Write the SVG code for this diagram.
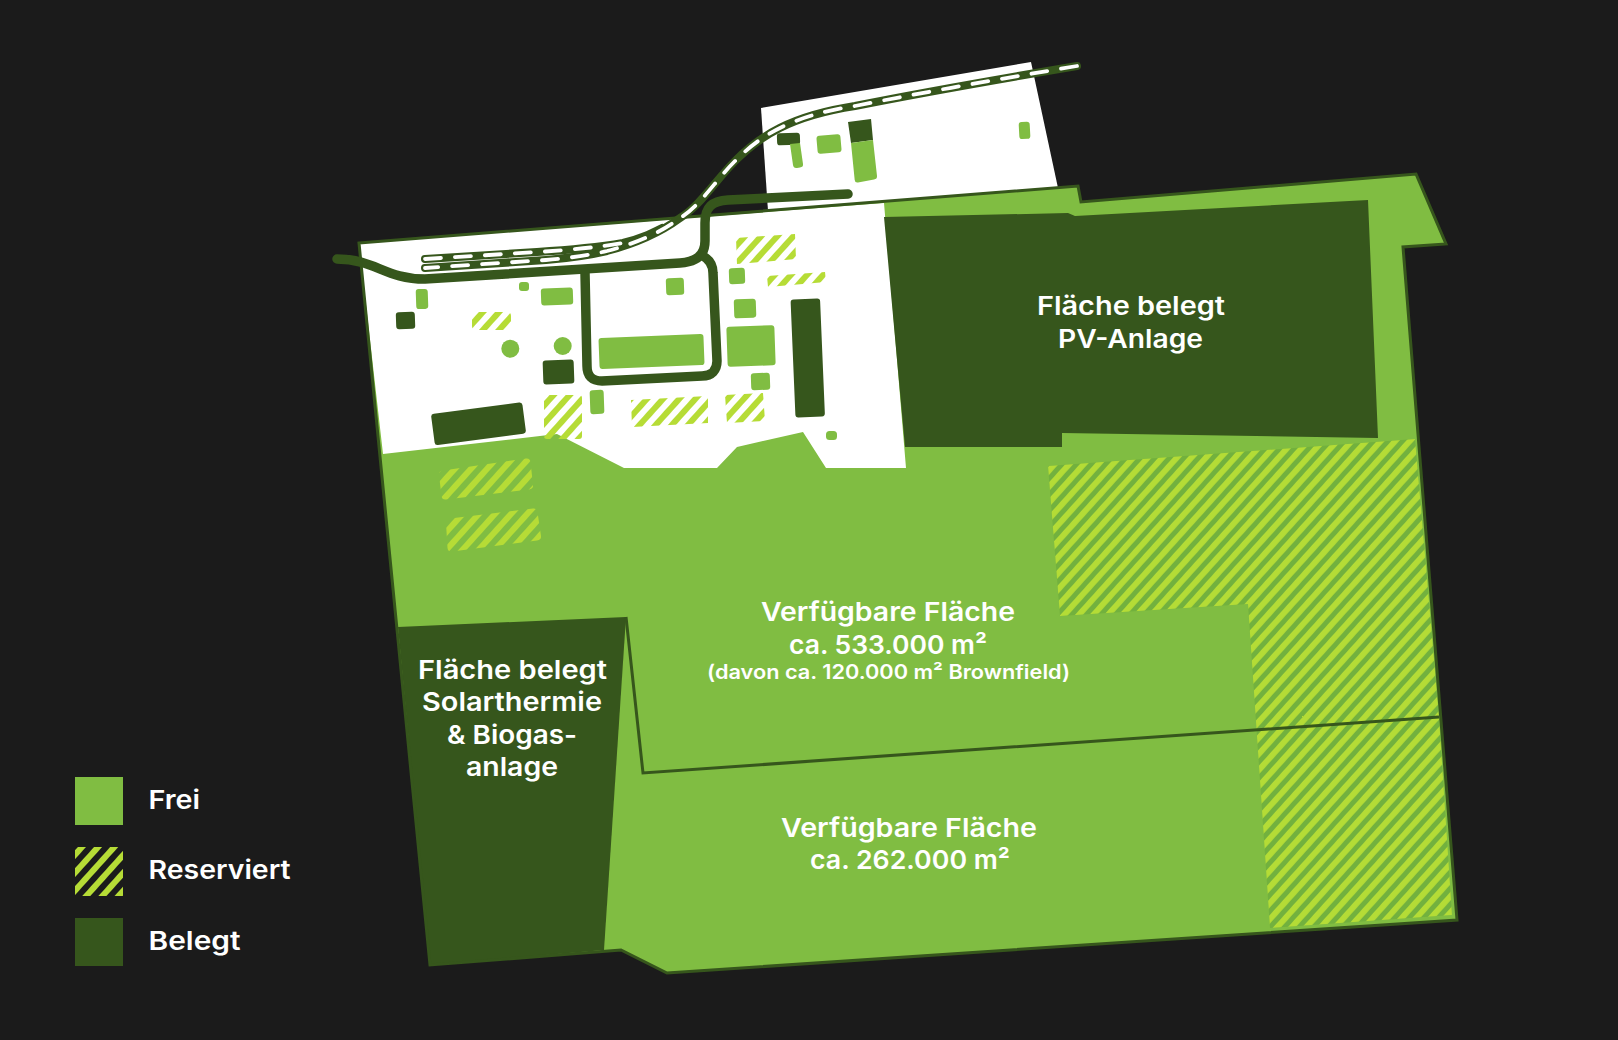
<svg xmlns="http://www.w3.org/2000/svg" width="1618" height="1040" viewBox="0 0 1618 1040">
<style>
.g{fill:#80bd42}.d{fill:#36561c}.w{fill:#fff}.h{fill:url(#hatch)}.b{fill:url(#hatchBig)}
.road{fill:none;stroke:#36561c;stroke-width:9.5;stroke-linecap:round;stroke-linejoin:round}
.rail{fill:none;stroke:#36561c;stroke-width:8;stroke-linecap:round}
.dash{fill:none;stroke:#fff;stroke-width:3.8;stroke-linecap:round;stroke-dasharray:16 14}
.edge{fill:none;stroke:#36561c;stroke-width:3;stroke-linejoin:miter}
text{font-family:"Inter","Open Sans","Liberation Sans",sans-serif;font-weight:600;fill:#fff;font-size:26px}
.s{font-size:20px}
</style>
<defs>
<pattern id="hatch" width="12" height="12" patternUnits="userSpaceOnUse" patternTransform="rotate(42)">
<rect x="0" y="0" width="6" height="12" fill="#b6dc36"/>
</pattern>
<pattern id="hatchBig" width="10.800" height="10.800" patternUnits="userSpaceOnUse" patternTransform="rotate(42)">
<rect x="0" y="0" width="5.8" height="10.800" fill="#b4dc36"/>
</pattern>
</defs>
<rect width="1618" height="1040" fill="#1b1b1b"/>
<g transform="translate(0,1)">
<g id="north-plot"><polygon class="w" points="761,107 1031,61 1058,187 768,210"/></g>
<g id="site">
<polygon id="site-fill" class="g" points="359,242 1078,185 1081,201 1416,173 1446,243 1403,246 1457,919 667,972 621,949 430,964"/>
</g>
<g id="reserved-area">
<polygon fill="#72b13e" points="1048,465 1415,438 1439,716 1452,914 1270,927 1248,603 1060,615"/>
<polygon class="b" points="1048,465 1415,438 1439,716 1452,914 1270,927 1248,603 1060,615"/>
</g>
<g id="factory"><polygon class="w" points="359,242 884,202 906,467 826,467 803,431 737,446 717,467 624,467 557,433 383,453"/></g>
<g id="pv"><polygon class="d" points="884,216 1068,212 1075,215 1368,199 1378,437 1062,432 1062,446 905,446"/>
<text x="1037" y="314" textLength="188" lengthAdjust="spacingAndGlyphs">Fläche belegt</text>
<text x="1058" y="347" textLength="145" lengthAdjust="spacingAndGlyphs">PV-Anlage</text></g>
<g id="solar"><polygon class="d" points="398,626 626,616 604,949 430,964"/>
<text x="418" y="678" textLength="189" lengthAdjust="spacingAndGlyphs">Fläche belegt</text>
<text x="422" y="710" textLength="180" lengthAdjust="spacingAndGlyphs">Solarthermie</text>
<text x="447" y="743" textLength="130" lengthAdjust="spacingAndGlyphs">&amp; Biogas-</text>
<text x="466" y="775" textLength="92" lengthAdjust="spacingAndGlyphs">anlage</text></g>
<g id="hatched-buildings">
<rect class="h" x="472" y="311" width="39" height="18" rx="4"/>
<rect class="h" x="544" y="394" width="38" height="44" rx="3"/>
<polygon class="h" points="631,399 708,395 708,422 632,426"/>
<polygon class="h" points="725,394 763,392 765,420 727,422"/>
<polygon class="h" points="736,237 795,233 796,258 737,263"/>
<polygon class="h" points="767,275 825,271 826,281 768,286"/>
<path class="h" d="M443,469.500 L526,457.500 Q530,457 530.500,461 L533,484 Q533.500,488 529,488.500 L446,498.500 Q442,499 441.500,495 L439,474 Q438.500,470 443,469.500Z"/>
<path class="h" d="M450,517.500 L533,507.500 Q537,507 537.500,511 L541,535 Q541.500,539 537,539.500 L452,550.500 Q448,551 447.500,547 L446,522 Q445.500,518 450,517.500Z"/>
</g>
<g id="buildings">
<rect class="g" x="416" y="288" width="12" height="20" rx="3" transform="rotate(-2 422 298)"/>
<rect class="d" x="396" y="311" width="19" height="17" rx="3" transform="rotate(-2 405 319)"/>
<rect class="g" x="519" y="281" width="10" height="9" rx="3"/>
<rect class="g" x="541" y="287" width="32" height="17" rx="3" transform="rotate(-2 557 295)"/>
<circle class="g" cx="510.3" cy="347.7" r="9"/>
<circle class="g" cx="562.7" cy="345" r="9"/>
<rect class="d" x="543" y="359" width="31" height="24" rx="3" transform="rotate(-2 558 371)"/>
<rect class="d" x="432.500" y="407" width="92" height="31.500" rx="3" transform="rotate(-7.5 478.500 422.500)"/>
<rect class="g" x="599" y="335" width="105" height="31" rx="3" transform="rotate(-2.2 651.500 350.500)"/>
<rect class="g" x="666" y="277" width="18" height="17" rx="3" transform="rotate(-2 675 285)"/>
<rect class="g" x="590" y="389" width="14" height="24" rx="3" transform="rotate(-2 597 401)"/>
<rect class="g" x="729" y="267" width="16" height="16" rx="3" transform="rotate(-2 737 275)"/>
<rect class="g" x="734" y="298" width="22" height="19" rx="3" transform="rotate(-2 745 307)"/>
<rect class="g" x="727" y="325" width="48" height="40" rx="3" transform="rotate(-2 751 345)"/>
<rect class="g" x="751" y="372" width="19" height="17" rx="3" transform="rotate(-2 760 380)"/>
<rect class="d" x="793" y="298" width="29.500" height="118" rx="3" transform="rotate(-2.4 808 357)"/>
<rect class="g" x="826" y="430" width="11" height="9" rx="3.500"/>
<rect class="d" x="777" y="132" width="23" height="12" rx="3" transform="rotate(-2 788 138)"/>
<path class="g" d="M790,143 L800,142 L803,163 Q803.500,166 800,166.500 L797,167 Q793.500,167.500 793,164Z"/>
<rect class="g" x="817" y="134" width="24" height="18" rx="3" transform="rotate(-5 829 143)"/>
<polygon class="d" points="848,121 871,118 873,139 851,142"/>
<path class="g" d="M851,142 L873,139 L877,175 Q877.300,178 874,178.500 L858,181.500 Q855,182 854.700,179Z"/>
<rect class="g" x="1019" y="121" width="11" height="17" rx="3" transform="rotate(-3 1024 129)"/>
</g>
<g id="connectors">
<polygon class="edge" points="359,242 1078,185 1081,201 1416,173 1446,243 1403,246 1457,919 667,972 621,949 430,964"/>
<polyline class="edge" points="626,616 643,772 1439,716"/>
<path class="road" d="M337,258 C375,258 385,278 425,278 L680,262 C695,261 705,255 705,240 L705,222 C705,206 712,200 728,199 L848,193"/>
<path class="road" d="M585,272 L587,365 C587,375 592,380 602,380 L702,375 C712,375 717,369 717,360 L713,272 C713,265 710,259 703,255"/>
<path class="rail" d="M1077,65 C1000,78 930,90 855,105 C790,115 760,135 735,160 C715,180 700,205 680,217 C665,228 645,240 607,250 C590,254 570,257 546,259 L425,267"/>
<path class="rail" d="M425,258 L537,251 C570,249 600,246 623,242 C640,238 650,233 662,227"/>
<path class="dash" d="M1077,65 C1000,78 930,90 855,105 C790,115 760,135 735,160 C715,180 700,205 680,217 C665,228 645,240 607,250 C590,254 570,257 546,259 L425,267"/>
<path class="dash" d="M425,258 L537,251 C570,249 600,246 623,242"/>
</g>
<g id="labels">
<text x="761" y="620" textLength="254" lengthAdjust="spacingAndGlyphs">Verfügbare Fläche</text>
<text x="789" y="653" textLength="198" lengthAdjust="spacingAndGlyphs">ca. 533.000 m²</text>
<text class="s" x="707" y="678" textLength="363" lengthAdjust="spacingAndGlyphs">(davon ca. 120.000 m² Brownfield)</text>
<text x="781" y="836" textLength="256" lengthAdjust="spacingAndGlyphs">Verfügbare Fläche</text>
<text x="810" y="868" textLength="200" lengthAdjust="spacingAndGlyphs">ca. 262.000 m²</text>
</g>
<g id="legend">
<rect class="g" x="75" y="776" width="48" height="48"/>
<text x="148.500" y="808" textLength="51.500" lengthAdjust="spacingAndGlyphs">Frei</text>
<rect class="h" x="75" y="846" width="48" height="49"/>
<text x="148.500" y="878" textLength="142" lengthAdjust="spacingAndGlyphs">Reserviert</text>
<rect class="d" x="75" y="917" width="48" height="48"/>
<text x="148.500" y="949" textLength="92" lengthAdjust="spacingAndGlyphs">Belegt</text>
</g>
</g>
</svg>
